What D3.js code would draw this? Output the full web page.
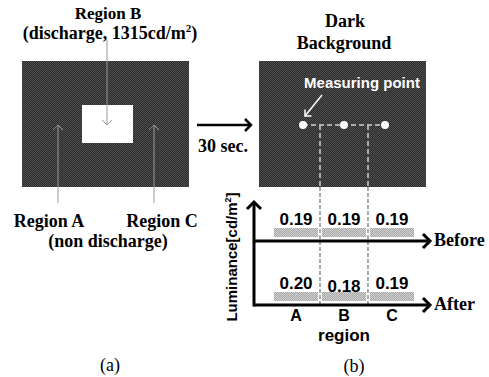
<!DOCTYPE html>
<html>
<head>
<meta charset="utf-8">
<script src="https://cdn.jsdelivr.net/npm/d3@7"></script>
<style>
  html, body { margin: 0; padding: 0; background: #fff; }
  svg { display: block; }
  .serif { font-family: "Liberation Serif", "Times New Roman", serif; font-weight: bold; }
  .sans { font-family: "Liberation Sans", Arial, sans-serif; font-weight: bold; }
</style>
</head>
<body>
<svg id="chart" width="489" height="377"></svg>
<script>
// ---- data ----
const regions = ["A", "B", "C"];
const series = ["Before", "After"];
const beforeValues = [0.19, 0.19, 0.19];
const afterValues = [0.20, 0.18, 0.19];
const valueLabels = { Before: beforeValues, After: afterValues };
const yAxisTitle = "Luminance[cd/m";
const xAxisTitle = "region";

const svg = d3.select("#chart");

const defs = svg.append("defs");
// halftone-like textures
const pd = defs.append("pattern").attr("id", "dark").attr("patternUnits", "userSpaceOnUse")
  .attr("width", 2).attr("height", 2);
pd.append("rect").attr("width", 2).attr("height", 2).attr("fill", "#2a2a2a");
pd.append("rect").attr("width", 1).attr("height", 1).attr("fill", "#505050");
pd.append("rect").attr("x", 1).attr("y", 1).attr("width", 1).attr("height", 1).attr("fill", "#505050");
const pl = defs.append("pattern").attr("id", "light").attr("patternUnits", "userSpaceOnUse")
  .attr("width", 2).attr("height", 2);
pl.append("rect").attr("width", 2).attr("height", 2).attr("fill", "#a8a8a8");
pl.append("rect").attr("width", 1).attr("height", 1).attr("fill", "#d0d0d0");
pl.append("rect").attr("x", 1).attr("y", 1).attr("width", 1).attr("height", 1).attr("fill", "#d0d0d0");

function chevron(g, x, y, dir, size, color, width) {
  let pts;
  if (dir === "up") pts = [[x - size, y + size], [x, y], [x + size, y + size]];
  else if (dir === "down") pts = [[x - size, y - size], [x, y], [x + size, y - size]];
  else if (dir === "right") pts = [[x - size, y - size], [x, y], [x - size, y + size]];
  else if (dir === "downleft") pts = [[x, y - size * 1.3], [x, y], [x + size * 1.3, y]];
  g.append("path").attr("d", d3.line()(pts)).attr("fill", "none")
    .attr("stroke", color).attr("stroke-width", width)
    .attr("stroke-linejoin", "miter").attr("stroke-linecap", "butt");
}

// ================= Panel (a) =================
const a = svg.append("g");
const panelA = { x0: 22, x1: 189, y0: 61, y1: 187 };
a.append("rect").attr("x", panelA.x0).attr("y", panelA.y0)
  .attr("width", panelA.x1 - panelA.x0).attr("height", panelA.y1 - panelA.y0)
  .attr("fill", "url(#dark)");
a.append("rect").attr("x", 82).attr("y", 105).attr("width", 51).attr("height", 38).attr("fill", "#fff");

const grayLine = "#9a9a9a";
a.append("line").attr("x1", 107).attr("x2", 107).attr("y1", 40).attr("y2", 125)
  .attr("stroke", grayLine).attr("stroke-width", 1);
chevron(a, 107, 125, "down", 5, grayLine, 1);
[58, 154].forEach(x => {
  a.append("line").attr("x1", x).attr("x2", x).attr("y1", 203).attr("y2", 125)
    .attr("stroke", grayLine).attr("stroke-width", 1);
  chevron(a, x, 125, "up", 5, grayLine, 1);
});

a.append("text").attr("class", "serif").attr("x", 108).attr("y", 19)
  .attr("text-anchor", "middle").attr("font-size", 17).text("Region B");
const t2 = a.append("text").attr("class", "serif").attr("x", 110).attr("y", 39)
  .attr("text-anchor", "middle").attr("font-size", 18);
t2.append("tspan").text("(discharge, 1315cd/m");
t2.append("tspan").attr("font-size", 11).attr("dy", -7).text("2");
t2.append("tspan").attr("dy", 7).text(")");

a.append("text").attr("class", "serif").attr("x", 49).attr("y", 227)
  .attr("text-anchor", "middle").attr("font-size", 18).text("Region A");
a.append("text").attr("class", "serif").attr("x", 162).attr("y", 227)
  .attr("text-anchor", "middle").attr("font-size", 18).text("Region C");
a.append("text").attr("class", "serif").attr("x", 108).attr("y", 247)
  .attr("text-anchor", "middle").attr("font-size", 18).text("(non discharge)");

a.append("text").attr("x", 110).attr("y", 371).attr("text-anchor", "middle")
  .attr("font-family", "Liberation Serif, Times New Roman, serif").attr("font-size", 18).text("(a)");

a.append("line").attr("x1", 197).attr("x2", 250).attr("y1", 125).attr("y2", 125)
  .attr("stroke", "#000").attr("stroke-width", 2.5);
chevron(a, 251, 125, "right", 6, "#000", 2.5);
a.append("text").attr("class", "serif").attr("x", 223).attr("y", 152)
  .attr("text-anchor", "middle").attr("font-size", 18).text("30 sec.");

// ================= Panel (b) =================
const b = svg.append("g");
const panelB = { x0: 259, x1: 426, y0: 61, y1: 187 };
b.append("rect").attr("x", panelB.x0).attr("y", panelB.y0)
  .attr("width", panelB.x1 - panelB.x0).attr("height", panelB.y1 - panelB.y0)
  .attr("fill", "url(#dark)");
b.append("text").attr("class", "serif").attr("x", 345).attr("y", 27)
  .attr("text-anchor", "middle").attr("font-size", 18).text("Dark");
b.append("text").attr("class", "serif").attr("x", 344).attr("y", 49)
  .attr("text-anchor", "middle").attr("font-size", 18).text("Background");

const x = d3.scaleBand().domain(regions).range([272, 416]).paddingInner(0.0833).paddingOuter(0.0417);
const pointX = d3.scalePoint().domain(regions).range([303, 385]);
const yBase = d3.scalePoint().domain(series).range([241, 305]);
const measureY = 125;

b.append("line").attr("x1", pointX("A")).attr("x2", pointX("C"))
  .attr("y1", measureY).attr("y2", measureY)
  .attr("stroke", "#cfcfcf").attr("stroke-width", 1.5).attr("stroke-dasharray", "5,3");
const boundaries = regions.slice(1).map(r => x(r) - x.step() * x.paddingInner() / 2);
boundaries.forEach(bx => {
  b.append("line").attr("x1", bx).attr("x2", bx).attr("y1", measureY).attr("y2", panelB.y1)
    .attr("stroke", "#cfcfcf").attr("stroke-width", 1.5).attr("stroke-dasharray", "5,3");
  b.append("line").attr("x1", bx).attr("x2", bx).attr("y1", panelB.y1).attr("y2", yBase("After"))
    .attr("stroke", "#555").attr("stroke-width", 1).attr("stroke-dasharray", "4,2");
});
b.selectAll("circle.mp").data(regions).join("circle").attr("class", "mp")
  .attr("cx", d => pointX(d)).attr("cy", measureY).attr("r", 4).attr("fill", "#fff");

b.append("text").attr("class", "sans").attr("x", 362).attr("y", 88)
  .attr("text-anchor", "middle").attr("font-size", 15).attr("fill", "#fff").text("Measuring point");
b.append("line").attr("x1", 322).attr("y1", 95).attr("x2", 305).attr("y2", 116)
  .attr("stroke", "#fff").attr("stroke-width", 1.5);
chevron(b, 305, 116, "downleft", 5, "#fff", 1.5);

const barH = 9, barGap = 4;
series.forEach(s => {
  const base = yBase(s);
  const vals = valueLabels[s];
  b.selectAll("rect.bar-" + s).data(regions).join("rect").attr("class", "bar-" + s)
    .attr("x", d => x(d)).attr("width", x.bandwidth())
    .attr("y", base - barGap - barH).attr("height", barH)
    .attr("fill", "url(#light)");
  b.selectAll("text.val-" + s).data(regions).join("text").attr("class", "sans val-" + s)
    .attr("x", d => x(d) + x.bandwidth() / 2)
    .attr("y", (d, i) => base - 16 + (vals[i] < 0.19 ? 3 : 0))
    .attr("text-anchor", "middle").attr("font-size", 17)
    .text((d, i) => d3.format(".2f")(vals[i]));
  b.append("line").attr("x1", 254).attr("x2", 429).attr("y1", base).attr("y2", base)
    .attr("stroke", "#000").attr("stroke-width", 3);
  chevron(b, 430, base, "right", 7, "#000", 3);
  b.append("text").attr("class", "serif").attr("x", 434).attr("y", base + 5)
    .attr("font-size", 18).text(s);
});
b.append("line").attr("x1", 254).attr("x2", 254).attr("y1", 306.5).attr("y2", 203)
  .attr("stroke", "#000").attr("stroke-width", 3);
chevron(b, 254, 202, "up", 7, "#000", 3);

const yt = b.append("text").attr("class", "sans").attr("transform", "translate(237,257) rotate(-90)")
  .attr("text-anchor", "middle").attr("font-size", 15);
yt.append("tspan").text(yAxisTitle);
yt.append("tspan").attr("font-size", 9).attr("dy", -6).text("2");
yt.append("tspan").attr("dy", 6).text("]");

b.selectAll("text.cat").data(regions).join("text").attr("class", "sans cat")
  .attr("x", d => x(d) + x.bandwidth() / 2).attr("y", 321)
  .attr("text-anchor", "middle").attr("font-size", 16).text(d => d);
b.append("text").attr("class", "sans").attr("x", 344).attr("y", 341)
  .attr("text-anchor", "middle").attr("font-size", 17).text(xAxisTitle);
b.append("text").attr("x", 354).attr("y", 372).attr("text-anchor", "middle")
  .attr("font-family", "Liberation Serif, Times New Roman, serif").attr("font-size", 18).text("(b)");
</script>
</body>
</html>
